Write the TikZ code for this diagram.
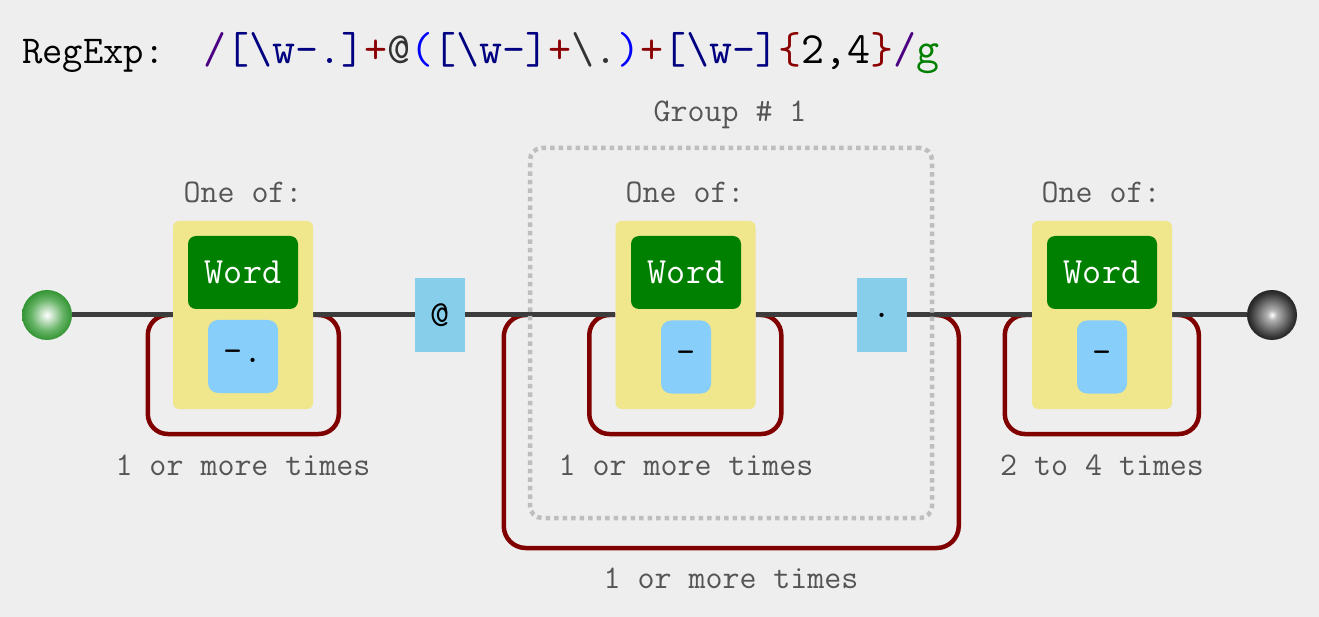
\documentclass[tikz,border=0pt]{standalone}
\usepackage{fontspec}
\usetikzlibrary{calc}
\definecolor{bgc}{HTML}{EEEEEE}
\definecolor{khaki}{HTML}{F0E68C}
\definecolor{wordg}{HTML}{008000}
\definecolor{lsky}{HTML}{87CEFA}
\definecolor{sky}{HTML}{87CEEB}
\definecolor{loopred}{HTML}{800000}
\definecolor{linec}{HTML}{3C3C3C}
\definecolor{grpc}{HTML}{BEBEBE}
\definecolor{labc}{HTML}{555555}
\definecolor{cslash}{HTML}{4B0082}
\definecolor{cnavy}{HTML}{000080}
\definecolor{cred}{HTML}{8B0000}
\definecolor{cdark}{HTML}{333333}
\definecolor{cblue}{HTML}{0000FF}
\definecolor{cgreen}{HTML}{008000}
\pgfdeclareradialshading{greenball}{\pgfpoint{0bp}{0bp}}{color(0bp)=(white); color(4bp)=(white!85!wordg); color(16bp)=(wordg!60!white); color(34bp)=(wordg!92!black); color(100bp)=(wordg!92!black)}
\pgfdeclareradialshading{blackball}{\pgfpoint{0bp}{0bp}}{color(0bp)=(white); color(5bp)=(black!30); color(22bp)=(black!80); color(34bp)=(black); color(100bp)=(black)}
\pgfdeclarelayer{back}
\pgfdeclarelayer{bg}
\pgfsetlayers{back,bg,main}
\tikzset{
  lab/.style={text=labc, font=\fontsize{33}{33}\selectfont\ttfamily, inner sep=0pt},
  yellowbox/.style={fill=khaki, rounded corners=6, minimum width=140, minimum height=188, inner sep=0pt},
  wordbox/.style={fill=wordg, text=white, rounded corners=8, minimum width=110, minimum height=73, inner sep=0pt, font=\fontsize{37}{37}\selectfont\ttfamily},
  charbox/.style={fill=lsky, rounded corners=10, minimum height=73, inner sep=0pt, font=\fontsize{37}{37}\selectfont\ttfamily},
  litbox/.style={fill=sky, minimum width=50, minimum height=74, inner sep=0pt, font=\fontsize{37}{37}\selectfont\ttfamily},
  loopst/.style={draw=loopred, line width=4.5, rounded corners=20},
  mainline/.style={draw=linec, line width=5},
}
\begin{document}
\begin{tikzpicture}[x=1pt,y=-1pt]
\useasboundingbox (0,0) rectangle (1319,617);
\begin{pgfonlayer}{back}
\fill[bgc] (0,0) rectangle (1319,617);
\end{pgfonlayer}

% title
\node[anchor=base west, inner sep=0pt, font=\fontsize{39.5}{39.5}\selectfont\ttfamily] (title) at (22,64) {RegExp:};
\node[anchor=base west, inner sep=0pt, font=\fontsize{44.7}{44.7}\selectfont\ttfamily] (regex) at (203,64)
 {\textcolor{cslash}{/}\textcolor{cnavy}{[\textbackslash w-.]}\textcolor{cred}{+}\textcolor{cdark}{@}\textcolor{cblue}{(}\textcolor{cnavy}{[\textbackslash w-]}\textcolor{cred}{+}\textcolor{cdark}{\textbackslash.}\textcolor{cblue}{)}\textcolor{cred}{+}\textcolor{cnavy}{[\textbackslash w-]}\textcolor{cred}{\{}2,4\textcolor{cred}{\}}\textcolor{cslash}{/}\textcolor{cgreen}{g}};

% terminals
\node[circle, minimum size=50, inner sep=0pt, shading=greenball] (start) at (47,315) {};
\node[circle, minimum size=50, inner sep=0pt, shading=blackball] (end) at (1272,315) {};

% group box
\node[draw=grpc, line width=4.5, dash pattern=on 4.5pt off 4pt, rounded corners=12, minimum width=402, minimum height=370, inner sep=0pt] (grp) at (731,333) {};
\node[lab] (grplab) at (730,115) {Group \# 1};

% block 1
\node[yellowbox] (y1) at (243,315) {};
\node[wordbox] (w1) at (243,272.5) {Word};
\node[charbox, minimum width=70] (c1) at (243,356.5) {-.};
\node[lab] (o1) at (243,192) {One of:};
\node[lab] (r1) at (243,465) {1 or more times};

% @
\node[litbox] (at) at (440,315) {@};

% block 2
\node[yellowbox] (y2) at (685.5,315) {};
\node[wordbox] (w2) at (686,272.5) {Word};
\node[charbox, minimum width=50] (c2) at (686,357) {-};
\node[lab] (o2) at (685,192) {One of:};
\node[lab] (r2) at (686,465) {1 or more times};

% dot
\node[litbox] (dot) at (882,315) {.};
\node[lab] (r4) at (731,578) {1 or more times};

% block 3
\node[yellowbox] (y3) at (1102,315) {};
\node[wordbox] (w3) at (1102,272.5) {Word};
\node[charbox, minimum width=50] (c3) at (1102,357) {-};
\node[lab] (o3) at (1101,192) {One of:};
\node[lab] (r3) at (1102,465) {2 to 4 times};

\begin{pgfonlayer}{bg}
  \draw[loopst] (y1.west) -- ++(-25,0) -- ++(0,119) -- ++(191,0) -- ++(0,-119) -- (y1.east);
  \draw[loopst] (y2.west) -- ++(-26,0) -- ++(0,119) -- ++(192,0) -- ++(0,-119) -- (y2.east);
  \draw[loopst] (y3.west) -- ++(-27,0) -- ++(0,119) -- ++(194,0) -- ++(0,-119) -- (y3.east);
  \draw[loopst, rounded corners=22] (y2.center -| grp.west) -- ++(-24,0) -- ++(0,233) -- ++(455,0) -- ++(0,-233) -- (dot.center -| grp.east);
  \draw[mainline] (start) -- (y1) -- (at) -- (y2) -- (dot) -- (y3) -- (end);
\end{pgfonlayer}
\end{tikzpicture}
\end{document}
